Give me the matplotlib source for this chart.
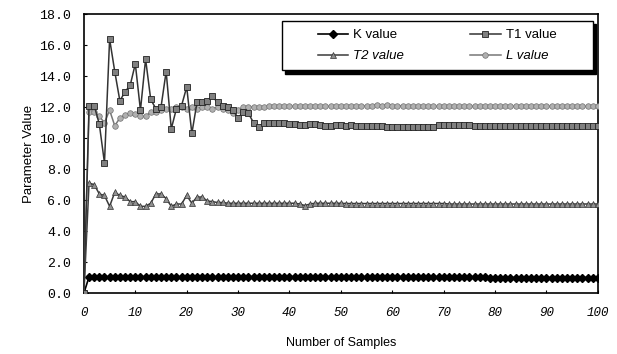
import matplotlib
matplotlib.use("Agg")
import matplotlib.pyplot as plt
from matplotlib.patches import Rectangle

# sample index 0..100
samples = list(range(101))

k_value = [0.0,
           1.05, 1.05, 1.05, 1.05, 1.05, 1.05, 1.05, 1.05, 1.05, 1.05,
           1.05, 1.05, 1.05, 1.05, 1.05, 1.05, 1.05, 1.05, 1.05, 1.05,
           1.05, 1.05, 1.05, 1.05, 1.05, 1.05, 1.05, 1.05, 1.02, 1.02,
           1.02, 1.02, 1.02, 1.02, 1.02, 1.02, 1.02, 1.02, 1.02, 1.02,
           1.02, 1.02, 1.02, 1.02, 1.02, 1.02, 1.02, 1.02, 1.02, 1.02,
           1.02, 1.02, 1.02, 1.02, 1.02, 1.02, 1.02, 1.02, 1.02, 1.02,
           1.02, 1.02, 1.02, 1.02, 1.02, 1.02, 1.02, 1.02, 1.02, 1.02,
           1.02, 1.02, 1.02, 1.02, 1.02, 1.02, 1.02, 1.02, 1.00, 1.00,
           1.00, 1.00, 1.00, 1.00, 1.00, 1.00, 1.00, 1.00, 1.00, 1.00,
           1.00, 1.00, 1.00, 1.00, 1.00, 1.00, 1.00, 1.00, 1.00, 1.00]

t1_value = [0.0,
            12.1, 12.1, 10.9, 8.4, 16.4, 14.3, 12.4, 13.0, 13.4, 14.8,
            11.8, 15.1, 12.5, 11.9, 12.0, 14.3, 10.6, 11.9, 12.1, 13.3,
            10.3, 12.3, 12.3, 12.4, 12.7, 12.3, 12.1, 12.0, 11.8, 11.3,
            11.7, 11.6, 11.0, 10.7, 11.0, 10.95, 10.95, 10.95, 10.95, 10.9,
            10.9, 10.85, 10.85, 10.9, 10.9, 10.85, 10.8, 10.8, 10.85, 10.85,
            10.8, 10.85, 10.8, 10.8, 10.8, 10.8, 10.8, 10.8, 10.75, 10.75,
            10.75, 10.75, 10.75, 10.75, 10.75, 10.75, 10.75, 10.75, 10.85, 10.85,
            10.85, 10.85, 10.85, 10.85, 10.85, 10.8, 10.8, 10.8, 10.8, 10.8,
            10.8, 10.8, 10.8, 10.8, 10.8, 10.8, 10.8, 10.8, 10.8, 10.8,
            10.8, 10.8, 10.8, 10.8, 10.8, 10.8, 10.8, 10.8, 10.8, 10.8]

t2_value = [0.0,
            7.1, 7.0, 6.4, 6.3, 5.6, 6.5, 6.3, 6.2, 5.9, 5.9,
            5.6, 5.6, 5.8, 6.4, 6.4, 6.1, 5.6, 5.75, 5.75, 6.3,
            5.8, 6.2, 6.2, 5.95, 5.9, 5.85, 5.85, 5.8, 5.8, 5.8,
            5.8, 5.8, 5.8, 5.8, 5.8, 5.8, 5.8, 5.8, 5.8, 5.8,
            5.8, 5.75, 5.65, 5.75, 5.8, 5.8, 5.8, 5.8, 5.8, 5.8,
            5.78, 5.78, 5.78, 5.78, 5.78, 5.78, 5.78, 5.78, 5.78, 5.78,
            5.78, 5.78, 5.78, 5.78, 5.78, 5.78, 5.78, 5.78, 5.78, 5.78,
            5.75, 5.75, 5.75, 5.75, 5.75, 5.75, 5.75, 5.75, 5.75, 5.75,
            5.75, 5.75, 5.75, 5.75, 5.75, 5.75, 5.75, 5.75, 5.75, 5.75,
            5.75, 5.75, 5.75, 5.75, 5.75, 5.75, 5.75, 5.75, 5.75, 5.75]

l_value = [0.0,
           11.7, 11.7, 11.4, 11.0, 11.8, 10.8, 11.3, 11.5, 11.6, 11.55,
           11.4, 11.4, 11.7, 11.7, 11.8, 11.9, 11.9, 12.0, 12.0, 11.9,
           12.0, 11.9, 12.0, 12.0, 11.9, 12.0, 11.9, 11.8, 11.6, 11.8,
           12.0, 12.0, 12.0, 12.0, 12.0, 12.05, 12.05, 12.05, 12.05, 12.05,
           12.05, 12.05, 12.05, 12.05, 12.05, 12.05, 12.05, 12.05, 12.05, 12.05,
           12.05, 12.1, 12.05, 12.1, 12.05, 12.1, 12.15, 12.1, 12.15, 12.1,
           12.05, 12.1, 12.05, 12.05, 12.05, 12.05, 12.05, 12.05, 12.05, 12.05,
           12.05, 12.05, 12.05, 12.05, 12.05, 12.05, 12.05, 12.05, 12.05, 12.05,
           12.05, 12.05, 12.05, 12.05, 12.05, 12.05, 12.05, 12.05, 12.05, 12.05,
           12.05, 12.05, 12.05, 12.05, 12.05, 12.05, 12.05, 12.05, 12.05, 12.05]

y_ticks = [0, 2, 4, 6, 8, 10, 12, 14, 16, 18]
x_ticks = [0, 10, 20, 30, 40, 50, 60, 70, 80, 90, 100]

fig = plt.figure(figsize=(6.17, 3.54), dpi=100)
ax = fig.add_axes([0.136, 0.172, 0.833, 0.788])

hk, = ax.plot(samples, k_value, color="black", lw=1.2, marker="D", ms=3.8,
              mfc="black", mec="black", label="K value", zorder=3)
ht1, = ax.plot(samples, t1_value, color="#333333", lw=1.1, marker="s", ms=4.2,
               mfc="#808080", mec="#222222", mew=0.6, label="T1 value", zorder=4)
ht2, = ax.plot(samples, t2_value, color="#3a3a3a", lw=1.1, marker="^", ms=4.2,
               mfc="#909090", mec="#333333", mew=0.5, label="T2 value", zorder=3)
hl, = ax.plot(samples, l_value, color="#777777", lw=1.1, marker="o", ms=4.0,
              mfc="#b0b0b0", mec="#707070", mew=0.5, label="L value", zorder=3)

ax.set_xlim(0, 100)
ax.set_ylim(0, 18)
ax.set_xticks(x_ticks)
ax.set_yticks(y_ticks)
ax.set_xticklabels([str(v) for v in x_ticks], family="Liberation Mono",
                   style="italic", fontsize=9)
ax.set_yticklabels(["%.1f" % v for v in y_ticks], family="Liberation Mono",
                   fontsize=9.5)
ax.tick_params(axis="x", direction="in", length=2.5, width=0.8, pad=10)
ax.tick_params(axis="y", direction="in", length=2.5, width=0.8, pad=9)
for s in ax.spines.values():
    s.set_linewidth(1.2)

ax.set_xlabel("Number of Samples", family="Liberation Sans", fontsize=9,
              labelpad=13)
ax.set_ylabel("Parameter Value", family="Liberation Sans", fontsize=9.5,
              labelpad=3)

# legend frame with a black drop shadow
x0, y0, w, h = 0.385, 0.799, 0.605, 0.176
ax.add_patch(Rectangle((x0 + 0.006, y0 - 0.012), w, h, transform=ax.transAxes,
                       facecolor="black", edgecolor="black", zorder=5))
ax.add_patch(Rectangle((x0, y0), w, h, transform=ax.transAxes,
                       facecolor="white", edgecolor="black", lw=1.0, zorder=6))

leg = ax.legend([hk, ht2, ht1, hl], ["K value", "T2 value", "T1 value", "L value"],
                ncol=2, loc="center", bbox_to_anchor=(x0 + w / 2, y0 + h / 2),
                prop={"family": "Liberation Sans", "size": 9.5},
                frameon=False, handlelength=2.3, handletextpad=0.4,
                labelspacing=0.65, columnspacing=5.0, borderaxespad=0)
leg.set_zorder(7)
for t in leg.get_texts():
    if t.get_text() in ("T2 value", "L value"):
        t.set_style("italic")

fig.savefig("out.png", dpi=100)
